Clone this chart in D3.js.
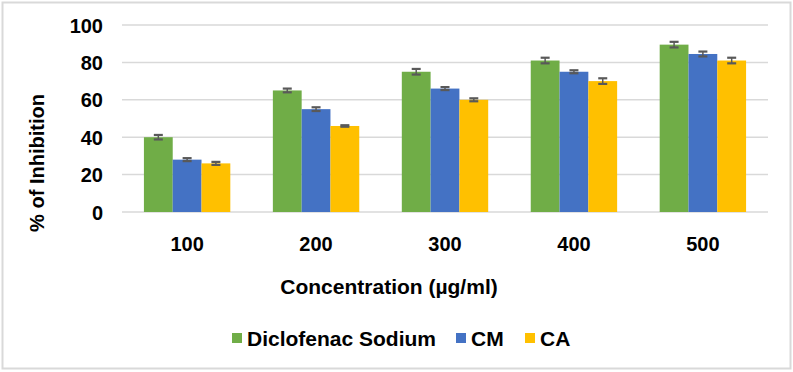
<!DOCTYPE html>
<html>
<head>
<meta charset="utf-8">
<script src="https://cdn.jsdelivr.net/npm/d3@7"></script>
<style>
  body { margin: 0; background: #fff; }
  text { font-family: "Liberation Sans", Arial, sans-serif; font-weight: bold; fill: #000; }
</style>
</head>
<body>
<div id="chart-area"></div>
<script>
// chart data
const categories = ["100", "200", "300", "400", "500"];
const seriesNames = ["Diclofenac Sodium", "CM", "CA"];
const diclofenac = [40, 65, 75, 81, 89.5];
const cm = [28, 55, 66, 75, 84.5];
const ca = [26, 46, 60, 70, 81];
const diclofenacErr = [1.2, 1, 1.5, 1.5, 1.5];
const cmErr = [0.8, 1, 0.8, 0.8, 1.3];
const caErr = [0.8, 0.4, 0.8, 1.5, 1.5];
const yTicks = [0, 20, 40, 60, 80, 100];
const colors = ["#70AD47", "#4472C4", "#FFC000"];

const series = [diclofenac, cm, ca];
const errs = [diclofenacErr, cmErr, caErr];

const width = 793, height = 372;
const svg = d3.select("#chart-area")
    .append("svg")
    .attr("width", width)
    .attr("height", height);

// outer border
svg.append("rect")
    .attr("x", 2.5).attr("y", 2.5)
    .attr("width", 788).attr("height", 366)
    .attr("fill", "none")
    .attr("stroke", "#d9d9d9")
    .attr("stroke-width", 2);

const margin = {top: 25, left: 122, right: 25, bottom: 160};
const plotW = width - margin.left - margin.right;
const plotH = height - margin.top - margin.bottom;

const g = svg.append("g")
    .attr("transform", "translate(" + margin.left + "," + margin.top + ")");

const y = d3.scaleLinear().domain([0, 100]).range([plotH, 0]);
const x = d3.scaleBand().domain(categories).range([0, plotW]).paddingInner(0.33).paddingOuter(0.17);
const xs = d3.scaleBand().domain(d3.range(series.length)).range([0, x.bandwidth()]);

// gridlines
g.selectAll("line.grid")
    .data(yTicks)
    .enter().append("line")
    .attr("x1", 0).attr("x2", plotW)
    .attr("y1", d => y(d)).attr("y2", d => y(d))
    .attr("stroke", "#d9d9d9")
    .attr("stroke-width", 1.5);

// y axis
const yAxis = g.append("g")
    .call(d3.axisLeft(y).tickValues(yTicks).tickSize(0).tickPadding(19));
yAxis.select(".domain").remove();
yAxis.selectAll("text")
    .attr("font-size", 20).attr("dy", "0.35em")
    .style("font-family", "Liberation Sans, Arial, sans-serif").style("font-weight", "bold");

// x axis
const xAxis = g.append("g")
    .attr("transform", "translate(0," + plotH + ")")
    .call(d3.axisBottom(x).tickSize(0).tickPadding(25));
xAxis.select(".domain").remove();
xAxis.selectAll("text")
    .attr("font-size", 20)
    .style("font-family", "Liberation Sans, Arial, sans-serif").style("font-weight", "bold");

// bars
series.forEach((vals, si) => {
    g.selectAll("rect.s" + si)
        .data(vals)
        .enter().append("rect")
        .attr("x", (d, i) => x(categories[i]) + xs(si))
        .attr("y", d => y(d))
        .attr("width", xs.bandwidth())
        .attr("height", d => plotH - y(d))
        .attr("fill", colors[si]);
});

// error bars
series.forEach((vals, si) => {
    const eg = g.append("g").attr("stroke", "#595959").attr("stroke-width", 1.5);
    vals.forEach((v, i) => {
        const cx = x(categories[i]) + xs(si) + xs.bandwidth() / 2;
        const e = errs[si][i];
        eg.append("line").attr("x1", cx).attr("x2", cx).attr("y1", y(v + e)).attr("y2", y(v - e));
        [v + e, v - e].forEach(t => {
            eg.append("line")
                .attr("x1", cx - 4.5).attr("x2", cx + 4.5)
                .attr("y1", y(t)).attr("y2", y(t))
                .attr("stroke-width", 2.2);
        });
    });
});

// axis titles
svg.append("text")
    .attr("x", 389).attr("y", 294)
    .attr("text-anchor", "middle")
    .attr("font-size", 21)
    .text("Concentration (µg/ml)");

svg.append("text")
    .attr("transform", "translate(44,163) rotate(-90)")
    .attr("text-anchor", "middle")
    .attr("font-size", 20)
    .text("% of Inhibition");

// legend
const legendX = [232, 456, 525];
const legend = svg.append("g");
seriesNames.forEach((name, i) => {
    legend.append("rect")
        .attr("x", legendX[i]).attr("y", 333)
        .attr("width", 10).attr("height", 10)
        .attr("fill", colors[i]);
    legend.append("text")
        .attr("x", legendX[i] + 15).attr("y", 346)
        .attr("font-size", 21)
        .text(name);
});
</script>
</body>
</html>
